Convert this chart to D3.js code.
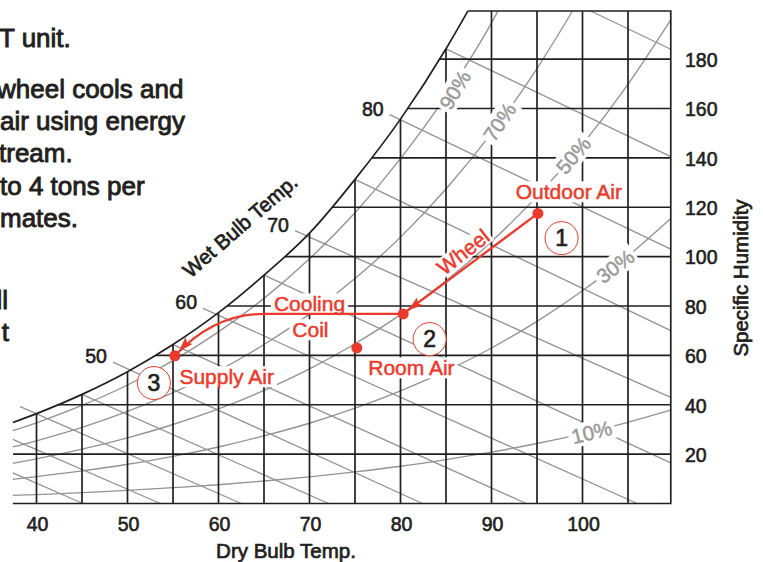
<!DOCTYPE html>
<html>
<head>
<meta charset="utf-8">
<script src="https://cdn.jsdelivr.net/npm/d3@7"></script>
<style>
  body { margin: 0; background: #fff; }
  svg { display: block; font-family: "Liberation Sans", Arial, sans-serif; }
</style>
</head>
<body>
<div id="chart"></div>
<script>
// ---- values ----
// dry bulb (F) and specific humidity (grains / lb dry air)
const dryBulbTicks = [40, 50, 60, 70, 80, 90, 100];
const dryBulbGrid = [40, 45, 50, 55, 60, 65, 70, 75, 80, 85, 90, 95, 100, 105];
const humidityTicks = [20, 40, 60, 80, 100, 120, 140, 160, 180];

// chart edges
const tMin = 37.4, tMax = 109.7, wMax = 199.5;

// saturation curve
const satTemp = [37.4, 40, 45, 50, 55, 60, 65, 70, 75, 80, 85, 87.4];
const satHum = [32.8, 36.4, 44.2, 53.4, 64.4, 77.3, 92.5, 109.5, 131.3, 155.7, 184.2, 199.5];

// relative humidity curves [dry bulb, grains]
const rh10 = [[37.4,3.3],[40,3.6],[45,4.4],[50,5.3],[55,6.4],[60,7.6],[65,9.1],[70,10.8],[75,12.8],[80,15.1],[85,17.8],[90,20.8],[95,24.3],[100,28.3],[105,32.9],[109.7,37.8]];
const rh30 = [[37.4,9.8],[40,10.9],[45,13.2],[50,15.9],[55,19.1],[60,22.9],[65,27.4],[70,32.5],[75,38.6],[80,45.6],[85,53.7],[90,63.0],[95,73.8],[100,86.2],[105,100.3],[109.7,115.5]];
const rh50 = [[37.4,16.3],[40,18.1],[45,22.0],[50,26.6],[55,32.0],[60,38.3],[65,45.8],[70,54.5],[75,64.7],[80,76.5],[85,90.2],[90,106.1],[95,124.4],[100,145.5],[105,169.8],[109.7,195.9]];
const rh70 = [[37.4,22.9],[40,25.4],[45,30.8],[50,37.3],[55,44.9],[60,53.8],[65,64.4],[70,76.7],[75,91.1],[80,107.9],[85,127.4],[90,150.0],[95,176.2],[98.9,199.5]];
const rh90 = [[37.4,29.5],[40,32.7],[45,39.7],[50,48.0],[55,57.9],[60,69.5],[65,83.1],[70,99.1],[75,117.8],[80,139.7],[85,165.1],[90,194.7],[90.7,199.5]];
const rhNames = ["10%", "30%", "50%", "70%", "90%"];
// where each % label sits on its curve
const rhLabelAt = [[101, 28.8], [103.6, 96], [99, 141], [90.9, 154.5], [86.0, 167.5]];
const rhLabelTilt = [-14, -37, -50, -56, -59];

// wet bulb lines: start / end points [dry bulb, grains]
const wetBulb = [30, 35, 40, 45, 50, 55, 60, 65, 70, 75, 80, 85, 90];
const wbStart = [[37.4,12.4],[37.4,26.0],[38.2,39.2],[45,44.2],[48.4,57.3],[55,64.4],[58.3,79.0],[65,92.5],[68.4,110.5],[75,131.3],[78.8,157.5],[85,184.2],[100.9,199.5]];
const wbEnd = [[45.1,0],[53.6,0],[62.5,0],[72.1,0],[82.4,0],[93.8,0],[106,0],[109.7,16.5],[109.7,43],[109.7,70],[109.7,103],[109.7,140.5],[109.7,184]];
const wbLabeled = [50, 60, 70, 80];

// process states: outdoor air, after wheel, room air, supply air
const stateTemp = [95.1, 80.3, 75.2, 55.2];
const stateHum = [117.5, 76.8, 63.0, 59.8];
const coilTurnTemp = 65, coilBendTemp = 59.5;

const introLines = ["T unit.", "wheel cools and", "air using energy", "tream.", "to 4 tons per", "mates.", "ll", "t"];

// ---- drawing ----
const ink = "#231f20", grey = "#939393", red = "#eb3a2b";

const svg = d3.select("#chart").append("svg")
  .attr("width", 763)
  .attr("height", 562);

const x = d3.scaleLinear().domain([40, 100]).range([36.5, 582.5]);
const y = d3.scaleLinear().domain([0, wMax]).range([503.5, 11]);

const line = d3.line().x(d => x(d[0])).y(d => y(d[1])).curve(d3.curveMonotoneX);
const satCurve = d3.zip(satTemp, satHum);

const defs = svg.append("defs");

// area under the saturation curve
const clip = defs.append("clipPath").attr("id", "under-sat");
clip.append("path")
  .attr("d", d3.area().x(d => x(d[0])).y0(y(0)).y1(d => y(d[1])).curve(d3.curveMonotoneX)(satCurve));
clip.append("rect")
  .attr("x", x(satTemp[satTemp.length - 1]))
  .attr("y", y(wMax))
  .attr("width", x(tMax) - x(satTemp[satTemp.length - 1]))
  .attr("height", y(0) - y(wMax));

defs.append("marker")
  .attr("id", "arrow")
  .attr("markerUnits", "userSpaceOnUse")
  .attr("viewBox", "0 0 15 10")
  .attr("markerWidth", 15)
  .attr("markerHeight", 10)
  .attr("refX", 21)
  .attr("refY", 5)
  .attr("orient", "auto")
  .append("path")
  .attr("d", "M0,0L15,5L0,10L3,5Z")
  .attr("fill", red);

// intro text cut off on the left
svg.append("g")
  .selectAll("text")
  .data(introLines)
  .enter().append("text")
  .attr("x", (d, i) => [-1, -3, 0, -1, 0, 0, 8, 9][i])
  .attr("text-anchor", (d, i) => i > 5 ? "end" : "start")
  .attr("y", (d, i) => [47, 97.5, 129.5, 162, 194.5, 227, 309, 341][i])
  .attr("font-size", 26)
  .attr("fill", ink)
  .attr("stroke", ink)
  .attr("stroke-width", 0.9)
  .text(d => d);

// gray wet bulb lines
const gGrey = svg.append("g")
  .attr("fill", "none")
  .attr("stroke", grey)
  .attr("stroke-width", 1.35);

gGrey.selectAll(".wb")
  .data(wetBulb)
  .enter().append("line")
  .attr("class", "wb")
  .attr("x1", (d, i) => x(wbStart[i][0]))
  .attr("y1", (d, i) => y(wbStart[i][1]))
  .attr("x2", (d, i) => x(wbEnd[i][0]))
  .attr("y2", (d, i) => y(wbEnd[i][1]));

// relative humidity curves
gGrey.selectAll(".rh")
  .data([rh10, rh30, rh50, rh70, rh90])
  .enter().append("path")
  .attr("class", "rh")
  .attr("d", line);

// black grid, clipped to the saturation curve
const gGrid = svg.append("g")
  .attr("stroke", ink)
  .attr("stroke-width", 1.7)
  .attr("clip-path", "url(#under-sat)");

gGrid.selectAll(".vgrid")
  .data(dryBulbGrid)
  .enter().append("line")
  .attr("class", "vgrid")
  .attr("x1", d => x(d)).attr("x2", d => x(d))
  .attr("y1", y(0)).attr("y2", y(wMax));

gGrid.selectAll(".hgrid")
  .data(humidityTicks)
  .enter().append("line")
  .attr("class", "hgrid")
  .attr("x1", x(tMin)).attr("x2", x(tMax))
  .attr("y1", d => y(d)).attr("y2", d => y(d));

// frame and saturation curve
const gFrame = svg.append("g")
  .attr("fill", "none")
  .attr("stroke", ink)
  .attr("stroke-width", 1.7);

gFrame.append("path")
  .attr("d", line(satCurve));

gFrame.append("path")
  .attr("d", `M${x(satTemp[satTemp.length - 1])},${y(wMax)}H${x(tMax)}V${y(0)}H${x(tMin)}`);

// axis labels
svg.append("g")
  .selectAll("text")
  .data(humidityTicks)
  .enter().append("text")
  .attr("x", 685)
  .attr("y", d => y(d) + 1)
  .attr("dy", "0.35em")
  .attr("font-size", 19.5)
  .attr("fill", ink)
  .attr("stroke", ink)
  .attr("stroke-width", 0.6)
  .text(d => d);

svg.append("g")
  .selectAll("text")
  .data(dryBulbTicks)
  .enter().append("text")
  .attr("x", d => x(d) + 1)
  .attr("y", 524)
  .attr("dy", "0.35em")
  .attr("text-anchor", "middle")
  .attr("font-size", 19.5)
  .attr("fill", ink)
  .attr("stroke", ink)
  .attr("stroke-width", 0.6)
  .text(d => d);

svg.append("g")
  .selectAll("text")
  .data(wbLabeled)
  .enter().append("text")
  .attr("x", d => x(wbStart[wetBulb.indexOf(d)][0]) - 6)
  .attr("y", d => y(wbStart[wetBulb.indexOf(d)][1]) + 1)
  .attr("text-anchor", "end")
  .attr("font-size", 19.5)
  .attr("fill", ink)
  .attr("stroke", ink)
  .attr("stroke-width", 0.6)
  .text(d => d);

const titles = svg.append("g")
  .attr("font-size", 20.5)
  .attr("fill", ink)
  .attr("stroke", ink)
  .attr("stroke-width", 0.7)
  .attr("text-anchor", "middle");

titles.append("text")
  .attr("transform", "translate(741,278) rotate(-90)")
  .attr("dy", "0.35em")
  .text("Specific Humidity");

titles.append("text")
  .attr("x", 286).attr("y", 551)
  .attr("dy", "0.35em")
  .text("Dry Bulb Temp.");

titles.append("text")
  .attr("transform", "translate(240,226) rotate(-41)")
  .attr("dy", "0.35em")
  .text("Wet Bulb Temp.");

// label with white backing
function tag(g, txt, cx, cy, angle, color, size, padX, padY) {
  const grp = g.append("g").attr("transform", `translate(${cx},${cy}) rotate(${angle})`);
  const bg = grp.append("rect").attr("fill", "#fff");
  const t = grp.append("text")
    .attr("text-anchor", "middle")
    .attr("dy", "0.35em")
    .attr("font-size", size)
    .attr("fill", color)
    .attr("stroke", color)
    .attr("stroke-width", 0.5)
    .text(txt);
  const b = t.node().getBBox();
  bg.attr("x", b.x - padX).attr("y", b.y - padY)
    .attr("width", b.width + 2 * padX).attr("height", b.height + 2 * padY);
  return grp;
}

const gTags = svg.append("g");
rhNames.forEach((n, i) => {
  tag(gTags, n, x(rhLabelAt[i][0]), y(rhLabelAt[i][1]), rhLabelTilt[i], "#9a9a9a", 20.5, 3, 0);
});

tag(gTags, "Outdoor Air", x(98.5), y(126.2), 0, red, 21, 2, -1);
tag(gTags, "Wheel", x(86.9), y(101.9), -38, red, 21, 2, -2);
tag(gTags, "Cooling", x(70.0), y(80.8), 0, red, 21, 3, -1);
tag(gTags, "Coil", x(70.1), y(70.3), 0, red, 21, 3, -1);
tag(gTags, "Room Air", x(81.2), y(54.9), 0, red, 21, 3, -1);
tag(gTags, "Supply Air", x(60.9), y(51.3), 0, red, 21, 3, -1);

// process paths
const pts = d3.zip(stateTemp, stateHum).map(d => [x(d[0]), y(d[1])]);

const gRed = svg.append("g")
  .attr("fill", "none")
  .attr("stroke", red)
  .attr("stroke-width", 2.3);

gRed.append("line")
  .attr("x1", pts[0][0]).attr("y1", pts[0][1])
  .attr("x2", pts[1][0]).attr("y2", pts[1][1])
  .attr("marker-end", "url(#arrow)");

const coil = d3.path();
coil.moveTo(pts[1][0], pts[1][1]);
coil.lineTo(x(coilTurnTemp), pts[1][1]);
coil.quadraticCurveTo(x(coilBendTemp), pts[1][1], pts[3][0], pts[3][1]);
gRed.append("path")
  .attr("d", coil.toString())
  .attr("marker-end", "url(#arrow)");

svg.append("g")
  .selectAll("circle")
  .data(pts)
  .enter().append("circle")
  .attr("cx", d => d[0])
  .attr("cy", d => d[1])
  .attr("r", 5.5)
  .attr("fill", red);

// numbered steps
const stepAt = [[97.7, 107.5], [83.2, 66.6], [52.9, 48.8]];
const steps = svg.append("g")
  .selectAll("g")
  .data(stepAt)
  .enter().append("g")
  .attr("transform", d => `translate(${x(d[0])},${y(d[1])})`);

steps.append("circle")
  .attr("r", 16.5)
  .attr("fill", "#fff")
  .attr("stroke", red)
  .attr("stroke-width", 1);

steps.append("text")
  .attr("text-anchor", "middle")
  .attr("dy", "0.36em")
  .attr("font-size", 23)
  .attr("fill", ink)
  .attr("stroke", ink)
  .attr("stroke-width", 0.7)
  .text((d, i) => i + 1);
</script>
</body>
</html>
